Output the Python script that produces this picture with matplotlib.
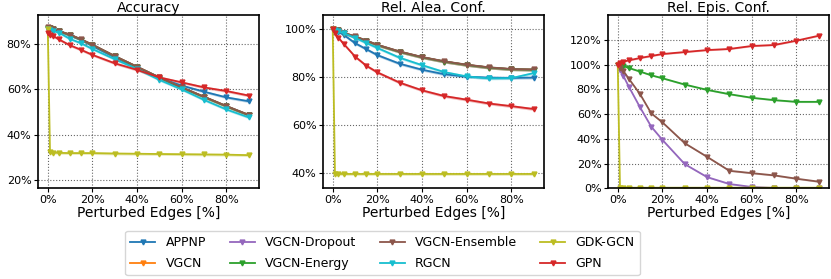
import numpy as np
import matplotlib.pyplot as plt
from matplotlib.ticker import PercentFormatter

# perturbed edges in %
x = [0, 1, 2.5, 5, 10, 15, 20, 30, 40, 50, 60, 70, 80, 90]

models = ["APPNP", "VGCN", "VGCN-Dropout", "VGCN-Energy", "VGCN-Ensemble", "RGCN", "GDK-GCN", "GPN"]
colors = ["tab:blue", "tab:orange", "tab:purple", "tab:green", "tab:brown", "tab:cyan", "tab:olive", "tab:red"]

# accuracy [%]
acc_appnp = [86.5, 86.4, 86.2, 85.9, 83.7, 81.8, 79.1, 74.1, 69.6, 65.0, 61.7, 59.0, 56.5, 54.8]
acc_vgcn = [87.2, 86.9, 86.4, 85.6, 84.0, 81.9, 79.6, 74.6, 69.9, 65.2, 60.8, 56.7, 52.6, 48.7]
acc_drop = [87.2, 86.9, 86.4, 85.6, 84.0, 81.9, 79.6, 74.6, 69.9, 65.2, 60.8, 56.7, 52.6, 48.7]
acc_energy = [87.2, 86.9, 86.4, 85.6, 84.0, 81.9, 79.6, 74.6, 69.9, 65.2, 60.8, 56.7, 52.6, 48.7]
acc_ens = [87.3, 87.0, 86.5, 85.7, 84.1, 82.0, 79.7, 74.7, 70.0, 65.3, 60.9, 56.8, 52.7, 48.8]
acc_rgcn = [86.6, 86.2, 85.7, 85.0, 82.2, 80.3, 77.8, 73.3, 69.0, 64.2, 60.0, 55.4, 51.2, 47.7]
acc_gdk = [86.8, 32.3, 32.2, 32.1, 32.0, 32.0, 32.0, 31.8, 31.7, 31.6, 31.5, 31.4, 31.3, 31.1]
acc_gpn = [84.7, 84.1, 83.5, 82.0, 79.4, 77.4, 75.2, 71.5, 68.6, 65.3, 63.1, 60.9, 59.3, 57.3]

# relative aleatoric confidence [%]
alea_appnp = [100, 99.5, 99.0, 97.6, 94.2, 91.7, 89.2, 85.6, 83.1, 81.2, 80.2, 79.8, 79.7, 79.8]
alea_vgcn = [100, 99.8, 99.5, 98.4, 96.9, 95.2, 93.4, 90.6, 88.3, 86.5, 85.1, 84.0, 83.3, 83.1]
alea_drop = [100, 99.8, 99.5, 98.4, 96.9, 95.2, 93.4, 90.6, 88.3, 86.5, 85.1, 84.0, 83.3, 83.1]
alea_energy = [100, 99.8, 99.5, 98.4, 96.9, 95.2, 93.4, 90.6, 88.3, 86.5, 85.1, 84.0, 83.3, 83.1]
alea_ens = [100, 99.8, 99.6, 98.5, 97.0, 95.3, 93.5, 90.7, 88.4, 86.6, 85.2, 84.1, 83.4, 83.2]
alea_rgcn = [100, 99.6, 99.2, 98.3, 96.4, 94.3, 92.2, 88.1, 85.0, 82.1, 80.3, 79.5, 79.6, 81.7]
alea_gdk = [100, 39.7, 39.6, 39.6, 39.6, 39.6, 39.6, 39.6, 39.6, 39.6, 39.6, 39.6, 39.6, 39.6]
alea_gpn = [100, 98.5, 96.5, 93.8, 88.6, 84.8, 82.0, 77.7, 74.5, 72.1, 70.6, 69.0, 67.9, 66.7]

# relative epistemic confidence [%]
epis_drop = [100, 95.5, 91.0, 82.1, 65.5, 49.9, 39.2, 19.6, 9.1, 3.5, 1.1, 0.3, 0.1, 0.1]
epis_energy = [100, 99.6, 99.0, 97.4, 94.5, 91.5, 89.1, 84.0, 79.7, 76.2, 73.3, 71.4, 70.0, 70.0]
epis_ens = [100, 97.5, 95.0, 88.6, 76.2, 60.7, 53.4, 36.5, 25.5, 14.2, 12.3, 10.5, 7.8, 5.4]
epis_gdk = [100, 0.6, 0.5, 0.5, 0.5, 0.5, 0.5, 0.5, 0.5, 0.5, 0.5, 0.5, 0.5, 0.5]
epis_gpn = [100, 101.5, 102.5, 103.6, 105.5, 107.1, 108.7, 110.3, 111.9, 112.8, 115.2, 116.0, 119.5, 123.5]

acc = [acc_appnp, acc_vgcn, acc_drop, acc_energy, acc_ens, acc_rgcn, acc_gdk, acc_gpn]
alea = [alea_appnp, alea_vgcn, alea_drop, alea_energy, alea_ens, alea_rgcn, alea_gdk, alea_gpn]
epis = [None, None, epis_drop, epis_energy, epis_ens, None, epis_gdk, epis_gpn]

fig = plt.figure(figsize=(8.31, 2.79), dpi=100)
lefts = [0.0454, 0.3883, 0.7313]
width = 0.266
bottom, height = 0.325, 0.62
titles = ["Accuracy", "Rel. Alea. Conf.", "Rel. Epis. Conf."]
ylims = [(16.5, 92.6), (33.6, 105.8), (0, 140)]
yticks = [[20, 40, 60, 80], [40, 60, 80, 100], [0, 20, 40, 60, 80, 100, 120]]

for i, data in enumerate([acc, alea, epis]):
    ax = fig.add_axes([lefts[i], bottom, width, height])
    for name, c, y in zip(models, colors, data):
        if y is None:
            ax.plot([], [], color=c, marker="v", markersize=3.5, lw=1.3, label=name)
            continue
        y = np.array(y)
        ax.fill_between(x, y - 0.6, y + 0.6, color=c, alpha=0.3, lw=0)
        ax.plot(x, y, color=c, marker="v", markersize=3.5, lw=1.3, label=name)
    ax.set_title(titles[i], fontsize=10, pad=2)
    ax.set_xlabel("Perturbed Edges [%]", fontsize=10, labelpad=1)
    ax.set_ylim(*ylims[i])
    ax.set_xlim(-4.5, 94.5)
    ax.set_xticks([0, 20, 40, 60, 80])
    ax.set_yticks(yticks[i])
    ax.xaxis.set_major_formatter(PercentFormatter(decimals=0))
    ax.yaxis.set_major_formatter(PercentFormatter(decimals=0))
    ax.tick_params(labelsize=8, length=3, pad=1.5)
    ax.grid(True, color="k", linestyle=":", linewidth=0.8, alpha=0.6)
    for s in ax.spines.values():
        s.set_linewidth(1.2)
    if i == 0:
        handles, labels = ax.get_legend_handles_labels()

fig.legend(handles, labels, ncol=4, fontsize=9, loc="center",
           bbox_to_anchor=(0.4603, 0.093), columnspacing=1.9, handlelength=2.0,
           handletextpad=0.8, borderpad=0.4, labelspacing=0.65)

fig.savefig("out.png", dpi=100)
